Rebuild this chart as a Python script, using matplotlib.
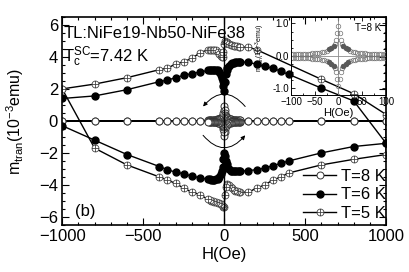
import numpy as np
import matplotlib
matplotlib.use("Agg")
import matplotlib.pyplot as plt
from matplotlib.path import Path
from matplotlib.ticker import MultipleLocator, FormatStrFormatter

plt.rcParams["font.family"] = ["Liberation Sans", "DejaVu Sans"]
plt.rcParams["mathtext.fontset"] = "custom"
plt.rcParams["mathtext.rm"] = "Liberation Sans"
plt.rcParams["mathtext.it"] = "Liberation Sans:italic"

# ---- T = 8 K (open circles), low-field part shared with the inset ----
h_in = [-100, -95, -90, -85, -80, -75, -70, -65, -60, -55, -50, -45, -40, -35, -30,
        -25, -20, -15, -10, -7.5, -5, -2.5, 0, 2.5, 5, 7.5, 10, 15, 20, 25, 30, 35,
        40, 45, 50, 55, 60, 65, 70, 75, 80, 85, 90, 95, 100]
m8_up_in = [0.05, 0.05, 0.05, 0.06, 0.06, 0.06, 0.06, 0.07, 0.07, 0.08, 0.08, 0.09,
            0.10, 0.11, 0.13, 0.16, 0.20, 0.25, 0.30, 0.38, 0.50, 0.70, 0.92, 0.70,
            0.50, 0.38, 0.30, 0.25, 0.20, 0.16, 0.13, 0.11, 0.10, 0.09, 0.08, 0.08,
            0.07, 0.07, 0.06, 0.06, 0.06, 0.06, 0.05, 0.05, 0.05]
m8_dn_in = [-0.05, -0.05, -0.05, -0.06, -0.06, -0.06, -0.06, -0.07, -0.07, -0.08, -0.08,
            -0.09, -0.10, -0.11, -0.13, -0.16, -0.20, -0.25, -0.30, -0.38, -0.50, -0.70,
            -0.92, -0.70, -0.50, -0.38, -0.30, -0.25, -0.20, -0.16, -0.13, -0.11, -0.10,
            -0.09, -0.08, -0.08, -0.07, -0.07, -0.06, -0.06, -0.06, -0.06, -0.05, -0.05,
            -0.05]
# darker (overlapping) points seen in the inset
h_dark = [-20, -15, -10, 10, 15, 20]
m_dark_up = [0.20, 0.25, 0.30, 0.30, 0.25, 0.20]
m_dark_dn = [-0.20, -0.25, -0.30, -0.30, -0.25, -0.20]

h8_left = [-1000, -800, -600, -400, -350, -300, -250, -200, -150]
m8_left = [0.0, 0.0, 0.0, 0.0, 0.0, 0.0, 0.0, 0.0, 0.0]
h8_right = [150, 200, 250, 300, 350, 400, 600, 800, 1000]
m8_right = [0.0, 0.0, 0.0, 0.0, 0.0, 0.0, 0.0, 0.0, 0.0]

# ---- T = 6 K (filled circles) ----
h6 = [-1000, -800, -600, -400, -350, -300, -250, -200, -150, -100, -90, -80, -70, -60,
      -50, -40, -30, -20, -15, -10, -5, 0, 5, 10, 15, 20, 30, 40, 50, 60, 70, 80, 90,
      100, 150, 200, 250, 300, 350, 400, 600, 800, 1000]
m6_up = [1.4, 1.56, 1.95, 2.45, 2.55, 2.7, 2.85, 2.95, 3.05, 3.15, 3.17, 3.18, 3.2, 3.2,
         3.2, 3.15, 3.05, 2.85, 2.7, 2.5, 2.2, 1.85, 2.4, 2.9, 3.15, 3.3, 3.45, 3.55, 3.6,
         3.63, 3.66, 3.68, 3.7, 3.7, 3.65, 3.55, 3.4, 3.3, 3.1, 2.9, 2.05, 1.25, -1.4]
m6_dn = [-0.3, -1.2, -2.1, -2.85, -3.05, -3.2, -3.3, -3.45, -3.55, -3.65, -3.66, -3.68,
         -3.7, -3.7, -3.65, -3.6, -3.5, -3.3, -3.15, -2.9, -2.4, -2.0, -2.2, -2.5, -2.7,
         -2.85, -3.0, -3.1, -3.15, -3.15, -3.15, -3.15, -3.15, -3.15, -3.1, -3.05, -2.95,
         -2.8, -2.65, -2.5, -2.0, -1.6, -1.4]

# ---- T = 5 K (crossed circles) ----
h5_up = [-1000, -800, -600, -400, -350, -300, -250, -200, -150, -100, -90, -80, -70,
         -60, -50, -40, -30, -20, -15, -10, -5, 0, 5, 10, 15, 20, 30, 40, 50, 60, 70,
         80, 90, 100, 150, 200, 600, 800, 1000]
m5_up = [2.0, 2.3, 2.7, 3.2, 3.3, 3.55, 3.7, 3.9, 4.25, 4.45, 4.45, 4.45, 4.45, 4.4,
         4.4, 4.3, 4.2, 4.05, 4.0, 4.0, 4.3, 4.8, 5.0, 4.95, 4.9, 4.85, 4.8, 4.75, 4.72,
         4.7, 4.68, 4.66, 4.64, 4.62, 4.6, 4.45, 2.6, 1.7, 0.4]
h5_dn = [-1000, -800, -600, -400, -350, -300, -250, -200, -150, -100, -90, -80, -70,
         -60, -50, -40, -30, -20, -15, -10, -5, 0, 5, 10, 15, 20, 30, 40, 50, 60, 70,
         80, 90, 100, 150, 200, 250, 300, 350, 400, 600, 800, 1000]
m5_dn = [2.0, -1.7, -2.75, -3.5, -3.7, -3.9, -4.2, -4.45, -4.6, -4.9, -4.95, -5.0, -5.0,
         -5.05, -5.05, -5.1, -5.15, -5.2, -5.25, -5.3, -5.35, -5.4, -4.6, -4.1, -4.0,
         -3.95, -4.0, -4.1, -4.2, -4.3, -4.35, -4.4, -4.45, -4.45, -4.45, -4.2, -4.0,
         -3.7, -3.5, -3.25, -2.75, -2.4, -2.1]

# circle with a cross inside
circ = Path.unit_circle()
oplus = Path(np.concatenate([circ.vertices, [[-1, 0], [1, 0], [0, -1], [0, 1]]]),
             np.concatenate([circ.codes, [Path.MOVETO, Path.LINETO, Path.MOVETO, Path.LINETO]]))

fig = plt.figure(figsize=(4.09, 2.72), dpi=100)
ax = fig.add_axes([0.152, 0.173, 0.792, 0.765])

x8 = h8_left + h_in + h8_right + h8_right[::-1] + h_in[::-1] + h8_left[::-1]
y8 = m8_left + m8_up_in + m8_right + m8_right[::-1] + m8_dn_in[::-1] + m8_left[::-1]
l8, = ax.plot(x8, y8, color="k", lw=1.0, marker="o", ms=5, mfc="white", mec="#333333",
              mew=0.7, label="T=8 K")

x6 = h6 + h6[::-1]
y6 = m6_up + m6_dn[::-1]
l6, = ax.plot(x6, y6, color="k", lw=1.0, marker="o", ms=5, mfc="k", mec="k",
              label="T=6 K")

x5 = h5_up + h5_dn[::-1]
y5 = m5_up + m5_dn[::-1]
l5, = ax.plot(x5, y5, color="k", lw=1.0, marker=oplus, ms=5, mfc="white", mec="#444444",
              mew=0.6, label="T=5 K")

ax.axvline(0, color="k", lw=1.0)

# rotation arrows around the origin
ax.annotate("", xy=(-130, 0.9), xytext=(130, 0.9),
            arrowprops=dict(arrowstyle="-|>", connectionstyle="arc3,rad=0.58", color="k",
                            lw=0.7, mutation_scale=6, shrinkA=0, shrinkB=0))
ax.annotate("", xy=(130, -0.9), xytext=(-130, -0.9),
            arrowprops=dict(arrowstyle="-|>", connectionstyle="arc3,rad=0.58", color="k",
                            lw=0.7, mutation_scale=6, shrinkA=0, shrinkB=0))

ax.set_xlim(-1000, 1000)
ax.set_ylim(-6.5, 6.5)
ax.xaxis.set_major_locator(MultipleLocator(500))
ax.xaxis.set_minor_locator(MultipleLocator(100))
ax.yaxis.set_major_locator(MultipleLocator(2))
ax.yaxis.set_minor_locator(MultipleLocator(0.5))
ax.tick_params(which="both", direction="in", top=True, right=True, width=0.8)
ax.tick_params(which="major", length=5, labelsize=12, pad=3)
ax.tick_params(which="minor", length=2.5)
for s in ax.spines.values():
    s.set_linewidth(1.2)

ax.set_xlabel("H(Oe)", fontsize=12)
ax.xaxis.set_label_coords(0.5, -0.105)
ax.set_ylabel(r"$\mathregular{m_{tran}(10^{-3}emu)}$", fontsize=11.5)
ax.yaxis.set_label_coords(-0.112, 0.5)

ax.text(0.003, 0.899, "TL:NiFe19-Nb50-NiFe38", transform=ax.transAxes, fontsize=12,
        va="baseline")
ax.text(0.003, 0.784, r"$\mathregular{T_c^{SC}}$=7.42 K", transform=ax.transAxes,
        fontsize=12, va="baseline")
ax.text(0.04, 0.043, "(b)", transform=ax.transAxes, fontsize=12, va="baseline")

ax.legend(handles=[l8, l6, l5], loc="lower right", bbox_to_anchor=(1.0, 0.02),
          frameon=False, fontsize=12, handlelength=2.0, handletextpad=0.3,
          labelspacing=0.2, borderpad=0, borderaxespad=0)

# ---- inset ----
axi = fig.add_axes([0.7115, 0.651, 0.232, 0.2865], facecolor="none")
axi.axhline(0, color="0.55", lw=0.6)
axi.axvline(0, color="0.55", lw=0.6)
axi.plot(h_in, m8_up_in, "o", ms=3.3, mfc="none", mec="0.45", mew=0.5)
axi.plot(h_in, m8_dn_in, "o", ms=3.3, mfc="none", mec="0.45", mew=0.5)
axi.plot(h_dark, m_dark_up, "o", ms=3.3, mfc="0.35", mec="0.35", mew=0.5)
axi.plot(h_dark, m_dark_dn, "o", ms=3.3, mfc="0.35", mec="0.35", mew=0.5)
axi.set_xlim(-100, 100)
axi.set_ylim(-1.2, 1.2)
axi.xaxis.set_major_locator(MultipleLocator(50))
axi.xaxis.set_minor_locator(MultipleLocator(25))
axi.yaxis.set_major_locator(MultipleLocator(1.0))
axi.yaxis.set_minor_locator(MultipleLocator(0.25))
axi.yaxis.set_major_formatter(FormatStrFormatter("%.1f"))
axi.tick_params(which="both", direction="in", top=True, right=True, width=0.6,
                labelsize=7, pad=1.5)
axi.tick_params(which="major", length=3)
axi.tick_params(which="minor", length=1.5)
for s in axi.spines.values():
    s.set_linewidth(0.7)
axi.set_xlabel("H(Oe)", fontsize=8, labelpad=0.5)
axi.set_ylabel(r"$\mathregular{m_{tran}(10^{-3}emu)}$", fontsize=5)
axi.yaxis.set_label_coords(-0.25, 0.6)
axi.text(0.95, 0.82, "T=8 K", transform=axi.transAxes, fontsize=7, ha="right")

fig.savefig("out.png", dpi=100)
